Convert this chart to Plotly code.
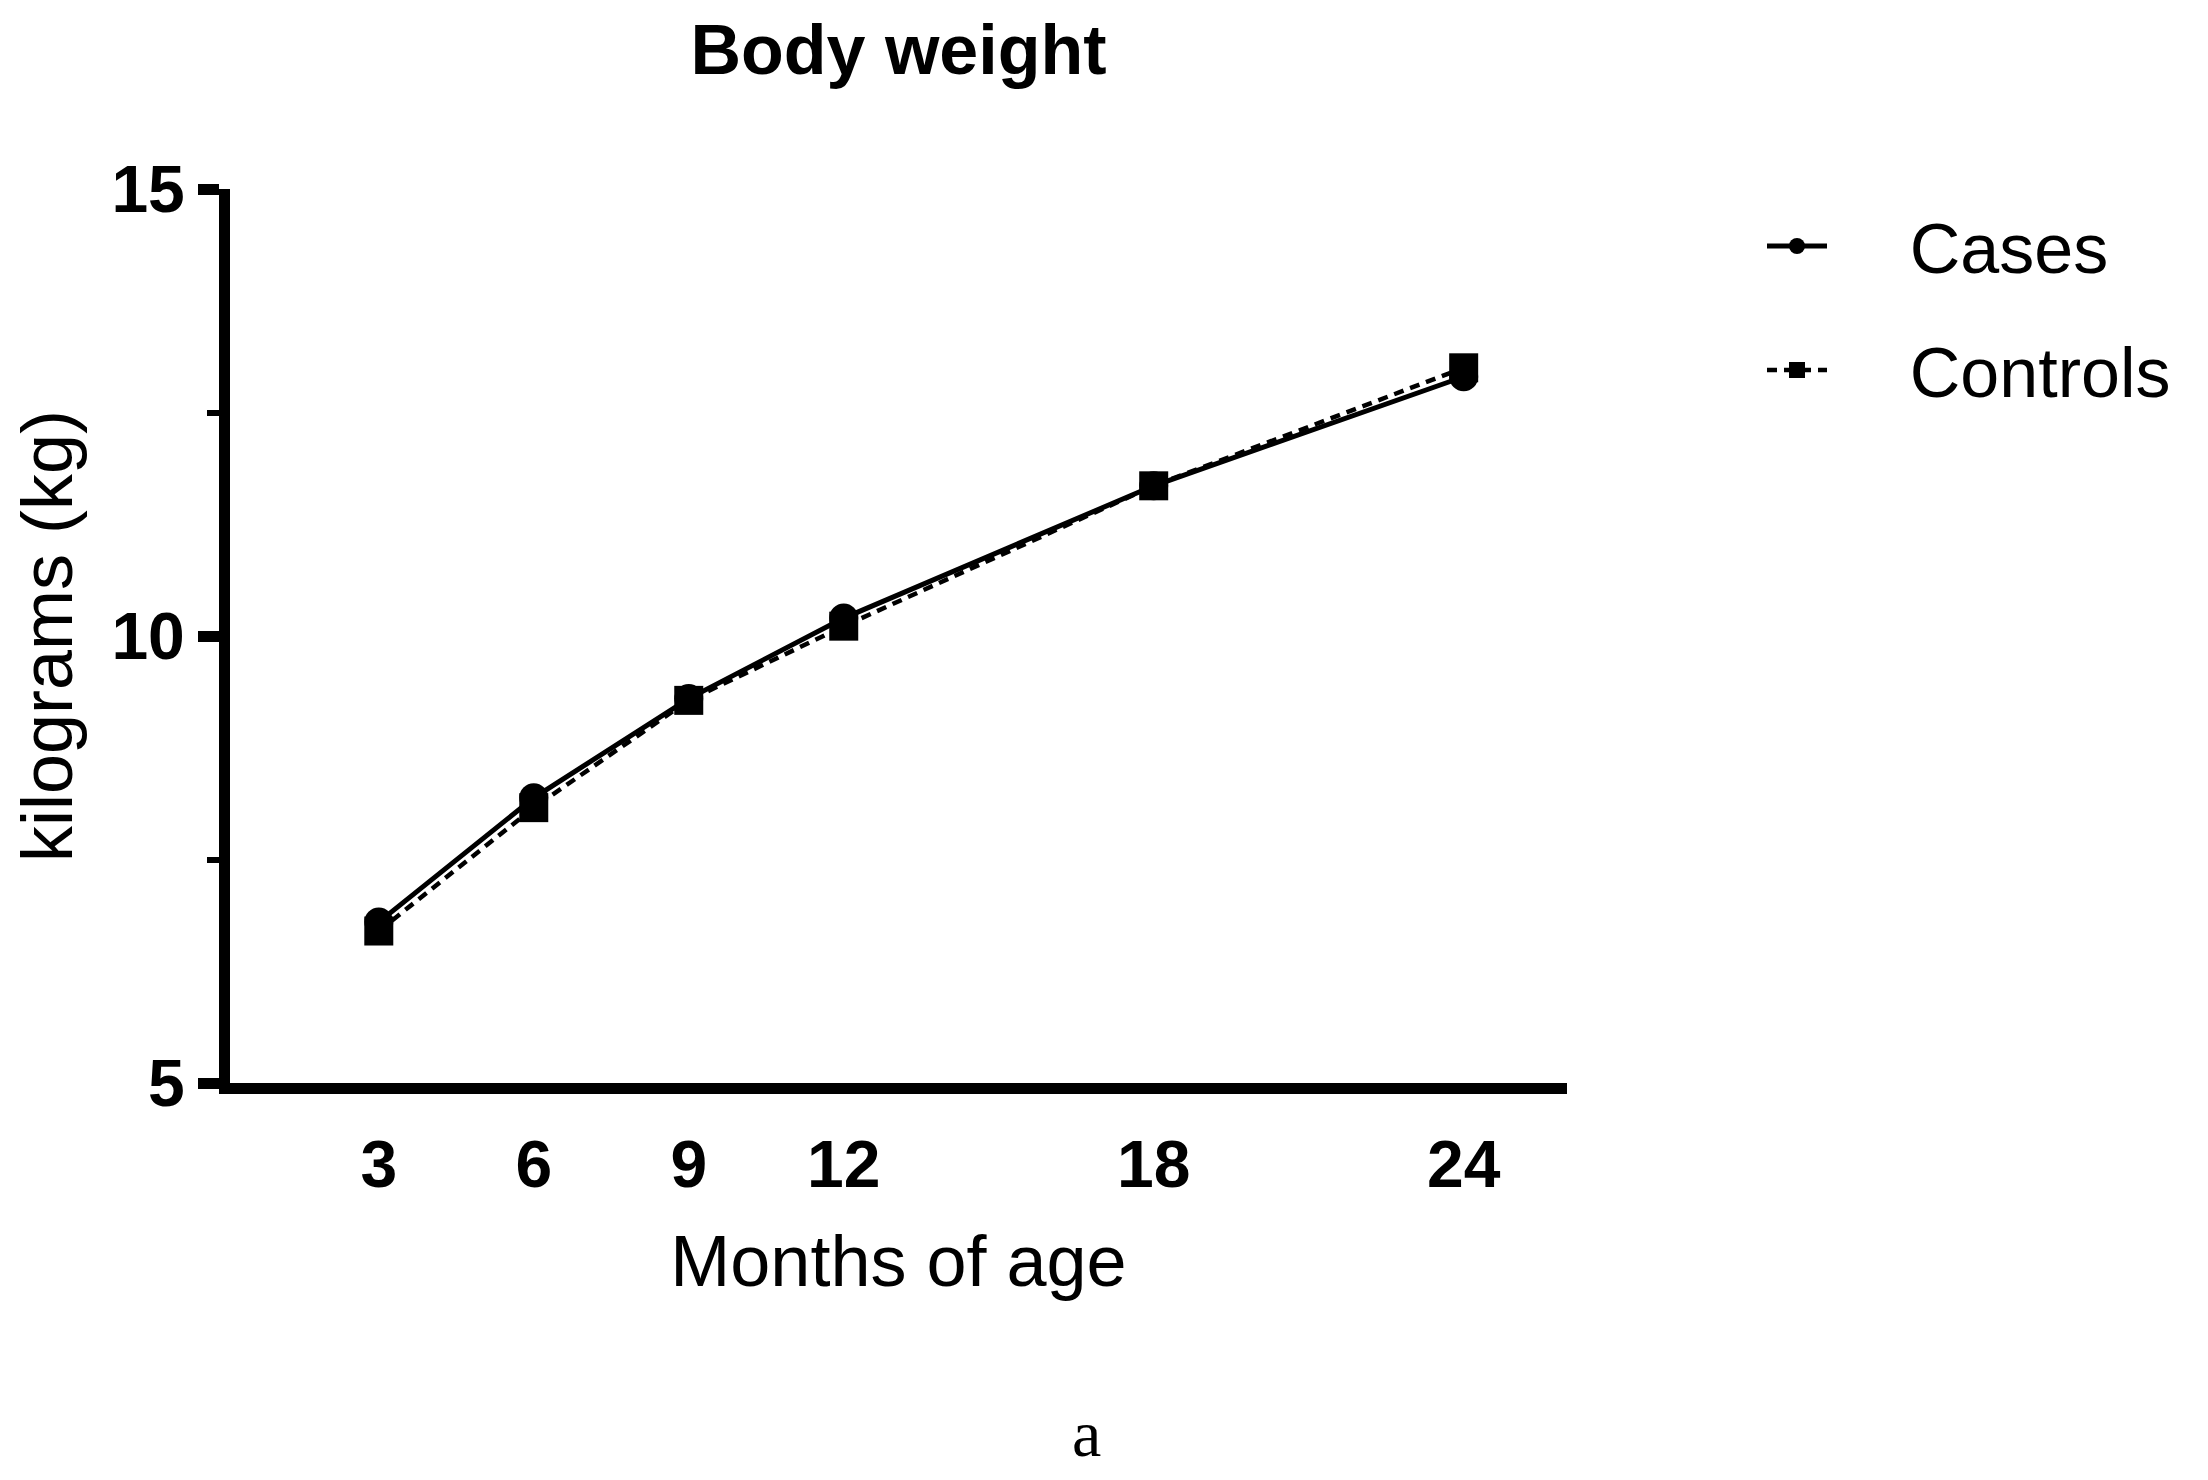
import plotly.graph_objects as go

months = [3, 6, 9, 12, 18, 24]
cases = [6.80, 8.19, 9.30, 10.20, 11.68, 12.90]
controls = [6.70, 8.08, 9.28, 10.11, 11.68, 13.00]
x_ticks = [3, 6, 9, 12, 18, 24]
y_ticks = [5, 10, 15]

FONT = "Liberation Sans, Arial, sans-serif"
NB = "\u00a0" * 4

fig = go.Figure()
fig.add_trace(go.Scatter(
    x=months, y=cases, name=NB + "Cases", mode="lines+markers",
    line=dict(color="black", width=5),
    marker=dict(symbol="circle", size=29, color="black"),
    legendgroup="a",
))
fig.add_trace(go.Scatter(
    x=months, y=controls, name=NB + "Controls", mode="lines+markers",
    line=dict(color="black", width=4.5, dash="10px,7px"),
    marker=dict(symbol="square", size=29, color="black"),
    legendgroup="b",
))

L, R, T, B = 230, 641, 189, 397
W, H = 2208, 1480
PW, PH = W - L - R, H - T - B

fig.update_layout(
    width=W, height=H,
    paper_bgcolor="white", plot_bgcolor="white",
    margin=dict(l=L, r=R, t=T, b=B, autoexpand=False),
    title=dict(text="<b>Body weight</b>", x=(L + (W - R)) / 2 / W, xanchor="center",
               y=1 - 49 / H, yanchor="middle",
               font=dict(family=FONT, size=70, color="black")),
    font=dict(family=FONT, color="black"),
    showlegend=True,
    legend=dict(x=(1762 - L) / PW, xanchor="left", y=1 - 5 / PH, yanchor="top",
                font=dict(family=FONT, size=70, color="black"),
                itemwidth=60, tracegroupgap=30, bgcolor="rgba(0,0,0,0)"),
    annotations=[dict(text="a", xref="paper", yref="paper",
                      x=(1086 - L) / PW, y=-(1433 - (H - B)) / PH,
                      xanchor="center", yanchor="middle", showarrow=False,
                      font=dict(family="Liberation Serif, Times New Roman, serif", size=66, color="black"))],
)

fig.update_xaxes(
    range=[0.12, 26.0], tickvals=x_ticks, ticktext=[f"<b>{v}</b>" for v in x_ticks],
    showline=True, linewidth=11, linecolor="black", ticks="", showgrid=False, zeroline=False,
    tickfont=dict(family=FONT, size=66, color="black"), ticklabelstandoff=14,
    title=dict(text="Months of age", font=dict(family=FONT, size=72, color="black"), standoff=40),
)
fig.update_yaxes(
    range=[5, 15], tickvals=y_ticks, ticktext=[f"<b>{v}</b>" for v in y_ticks],
    showline=True, linewidth=11, linecolor="black", ticks="outside", ticklen=21, tickwidth=11,
    tickcolor="black", showgrid=False, zeroline=False,
    minor=dict(tickvals=[7.5, 12.5], ticks="outside", ticklen=12, tickwidth=6, tickcolor="black"),
    tickfont=dict(family=FONT, size=66, color="black"),
    title=dict(text="kilograms (kg)", font=dict(family=FONT, size=72, color="black"), standoff=20),
)

fig.write_html("out.html", config={"displayModeBar": False},
               post_script="document.body.style.margin='0';")
